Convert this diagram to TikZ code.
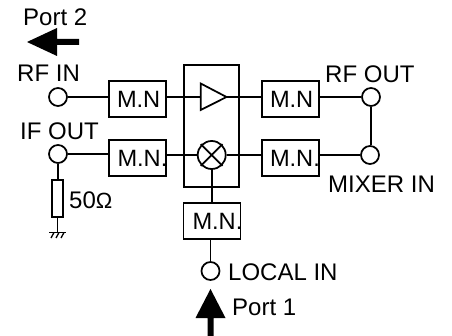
\documentclass[tikz,border=0pt]{standalone}
\usepackage{fontspec}
\setmainfont{Liberation Sans}
\usetikzlibrary{shapes.misc}
\newcommand{\mnlabel}[2]{\makebox[57pt][l]{\hspace{#1}#2}}
\tikzset{
  wire/.style={line width=1.75pt},
  mnbox/.style={draw,line width=1.75pt,minimum width=57pt,minimum height=36pt,inner sep=0pt,font=\fontsize{23.6}{28}\selectfont},
  port/.style={circle,draw,line width=1.75pt,minimum size=18pt,inner sep=0pt},
  lbl/.style={anchor=base west,inner sep=0pt,font=\fontsize{24}{28}\selectfont},
  bigarrow/.style={fill=black,draw=none},
}
\begin{document}
\begin{tikzpicture}[x=1pt,y=-1pt]
\useasboundingbox (0,0) rectangle (452,336);
% central block
\node[draw,line width=1.75pt,minimum width=55pt,minimum height=122pt,inner sep=0pt] (block) at (211.7,126) {};
% matching networks
\node[mnbox] (mn1) at (137.5,99) {\mnlabel{8pt}{M.N}};
\node[mnbox] (mn2) at (137.5,158) {\mnlabel{8.5pt}{M.N.}};
\node[mnbox] (mn3) at (290.5,99) {\mnlabel{8pt}{M.N}};
\node[mnbox] (mn4) at (290.5,158) {\mnlabel{8pt}{M.N.}};
\node[mnbox] (mn5) at (212,221) {\mnlabel{9pt}{M.N.}};
% ports
\node[port] (rfin) at (58,97) {};
\node[port] (ifout) at (58,154) {};
\node[port] (rfout) at (371,97) {};
\node[port] (mixin) at (370,155) {};
\node[port] (loin) at (210.5,271) {};
% amplifier and mixer
\coordinate (ampin) at (200.7,97);
\coordinate (ampout) at (226.5,97);
\draw[wire,line join=miter] (200.7,83.5) -- (ampout) -- (200.7,110) -- cycle;
\node[circle,draw,cross out,line width=1.75pt,minimum size=20pt,inner sep=0pt] (mixx) at (211.7,155) {};
\node[circle,draw,line width=1.75pt,minimum size=28pt,inner sep=0pt] (mix) at (211.7,155) {};
% resistor and ground
\node[draw,line width=1.75pt,minimum width=11.5pt,minimum height=37pt,inner sep=0pt] (res) at (57.5,198.5) {};
\coordinate (gnd) at (57.5,232.5);
\coordinate (gl) at (49,232.5);
\coordinate (gr) at (66,232.5);
% connectors
\draw[wire] (rfin) -- (rfin -| mn1.west);
\draw[wire] (mn1.east |- ampin) -- (ampin);
\draw[wire] (ampout) -- (ampout -| mn3.west);
\draw[wire] (rfout -| mn3.east) -- (rfout);
\draw[wire] (rfout) -- (rfout |- mixin.north);
\draw[wire] (ifout) -- (ifout |- res.north);
\draw[wire] (ifout) -- (ifout -| mn2.west);
\draw[wire] (mn2.east |- mix) -- (mix);
\draw[wire] (mix) -- (mix -| mn4.west);
\draw[wire] (mixin -| mn4.east) -- (mixin);
\draw[wire] (mix.south -| mn5.north) -- (mn5.north);
\draw[wire] (loin |- mn5.south) -- (loin);
\draw[wire] (res.south) -- (gnd);
\draw[wire] (gl) -- (gr);
\draw[line width=1.3pt] (54,232.5) -- (51,238) (59,232.5) -- (56,238) (64,232.5) -- (61,238);
% labels
\node[lbl] (tport2) at (23,26) {Port 2};
\node[lbl] (trfin) at (17,82) {RF IN};
\node[lbl] (tifout) at (20,140) {IF OUT};
\node[lbl] (trfout) at (325,83) {RF OUT};
\node[lbl] (tmixin) at (328,193) {MIXER IN};
\node[lbl] (tres) at (69,209) {50{\fontsize{22}{26}\selectfont Ω}};
\node[lbl] (tlo) at (228,281) {LOCAL IN};
\node[lbl] (tport1) at (232,316) {Port 1};
% port arrows
\fill[bigarrow] (79,39) -- (57,39) -- (57,28) -- (27,42) -- (57,56) -- (57,45) -- (79,45) -- cycle;
\fill[bigarrow] (207.5,336) -- (207.5,318) -- (195.5,318) -- (210.5,289) -- (225.5,318) -- (213.5,318) -- (213.5,336) -- cycle;
\end{tikzpicture}
\end{document}
